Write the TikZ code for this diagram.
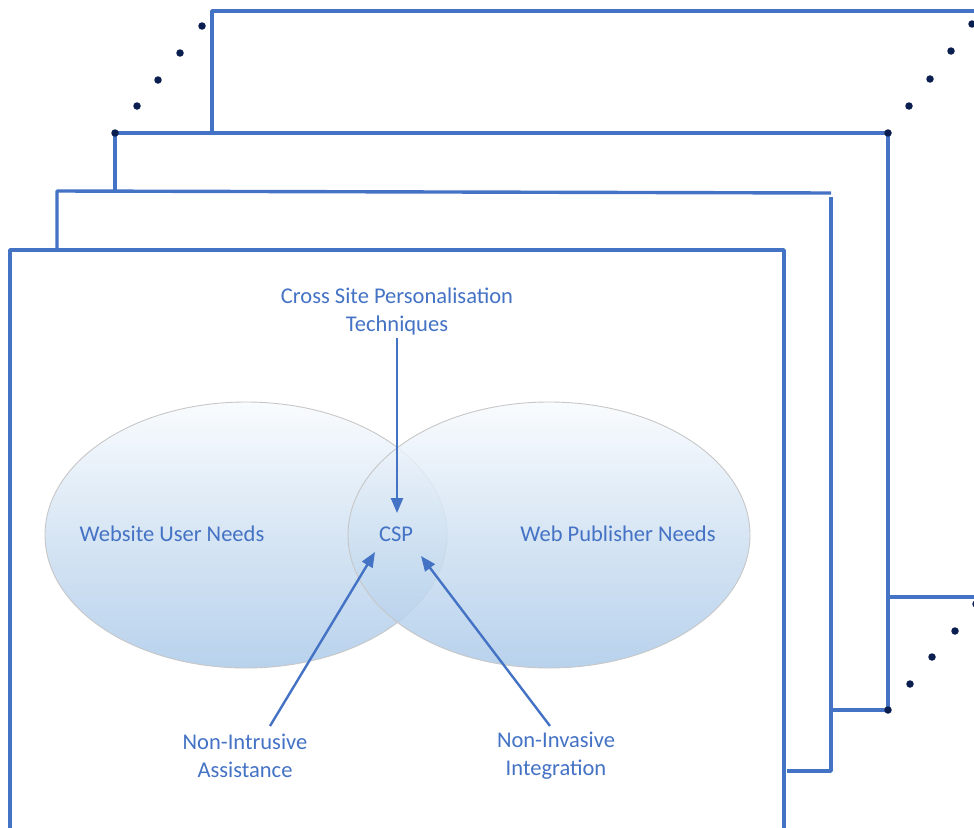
\documentclass[tikz,border=0pt]{standalone}
\usepackage{fontspec}
\setmainfont{Carlito}
\usetikzlibrary{arrows.meta,shapes.geometric}
\definecolor{officeblue}{RGB}{68,114,196}
\definecolor{textblue}{RGB}{68,114,196}
\definecolor{dotnavy}{RGB}{10,30,80}
\definecolor{ellTop}{RGB}{248,251,254}
\definecolor{ellMid}{RGB}{208,225,242}
\definecolor{ellBot}{RGB}{172,202,233}
\begin{document}
\begin{tikzpicture}[x=1pt,y=-1pt,
  frame/.style={draw=officeblue,line width=3.4pt,line join=round},
  dotmark/.style={circle,fill=dotnavy,inner sep=0pt,minimum size=7.5pt},
  venn/.style={ellipse,draw=black!22,line width=0.9pt,top color=ellTop,bottom color=ellBot,middle color=ellMid,
    fill opacity=0.85,minimum width=402pt,minimum height=266pt,inner sep=0pt},
  label/.style={text=textblue,font=\fontsize{22.5}{28}\selectfont,align=center},
  pointer/.style={draw=officeblue,line width=2.4pt,-{Triangle[length=15pt,width=12pt]}}]
\useasboundingbox (0,0) rectangle (974,827);
\clip (0,0) rectangle (974,827);

% stacked frames, back to front
\draw[frame] (212,133) -- (212,11) -- (990,11);
\draw[frame] (888,597) -- (990,597);
\draw[frame] (115,191) -- (115,133) -- (888,133) -- (888,710) -- (831,710);
\draw[frame] (57,250) -- (57,191) -- (831,193);
\draw[frame] (831,197) -- (831,771) -- (787,771);
\draw[frame] (10,840) -- (10,250) -- (784,250) -- (784,840);

% corner dots trailing off to the frames behind
\foreach \p in {(115,133),(137,106),(158,80),(180,53),(202,26)} \node[dotmark] at \p {};
\foreach \p in {(888,133),(909,106),(930,79),(951,51),(972,24)} \node[dotmark] at \p {};
\foreach \p in {(888,710),(910,684),(932,657),(955,631),(976,604)} \node[dotmark] at \p {};

% Venn diagram
\node[venn] (user) at (246,535) {};
\node[venn] (pub) at (549,535) {};

\node[label] (usertxt) at (172,534) {Website User Needs};
\node[label] (pubtxt) at (618,534) {Web Publisher Needs};
\node[label] (csp) at (396,534) {CSP};

\node[label] (cspt) at (397,311) {Cross Site Personalisation\\Techniques};
\node[label] (nia) at (245,756) {Non-Intrusive\\Assistance};
\node[label] (nii) at (556,756) {Non-Invasive\\Integration};

\coordinate (inTop) at (397,513);
\coordinate (inLeft) at (375,552);
\coordinate (inRight) at (421,556);
\coordinate (fromLeft) at (270,726);
\coordinate (fromRight) at (550,726);

\draw[pointer] (cspt.south -| inTop) -- (inTop);
\draw[pointer] (fromLeft) -- (inLeft);
\draw[pointer] (fromRight) -- (inRight);
\end{tikzpicture}
\end{document}
